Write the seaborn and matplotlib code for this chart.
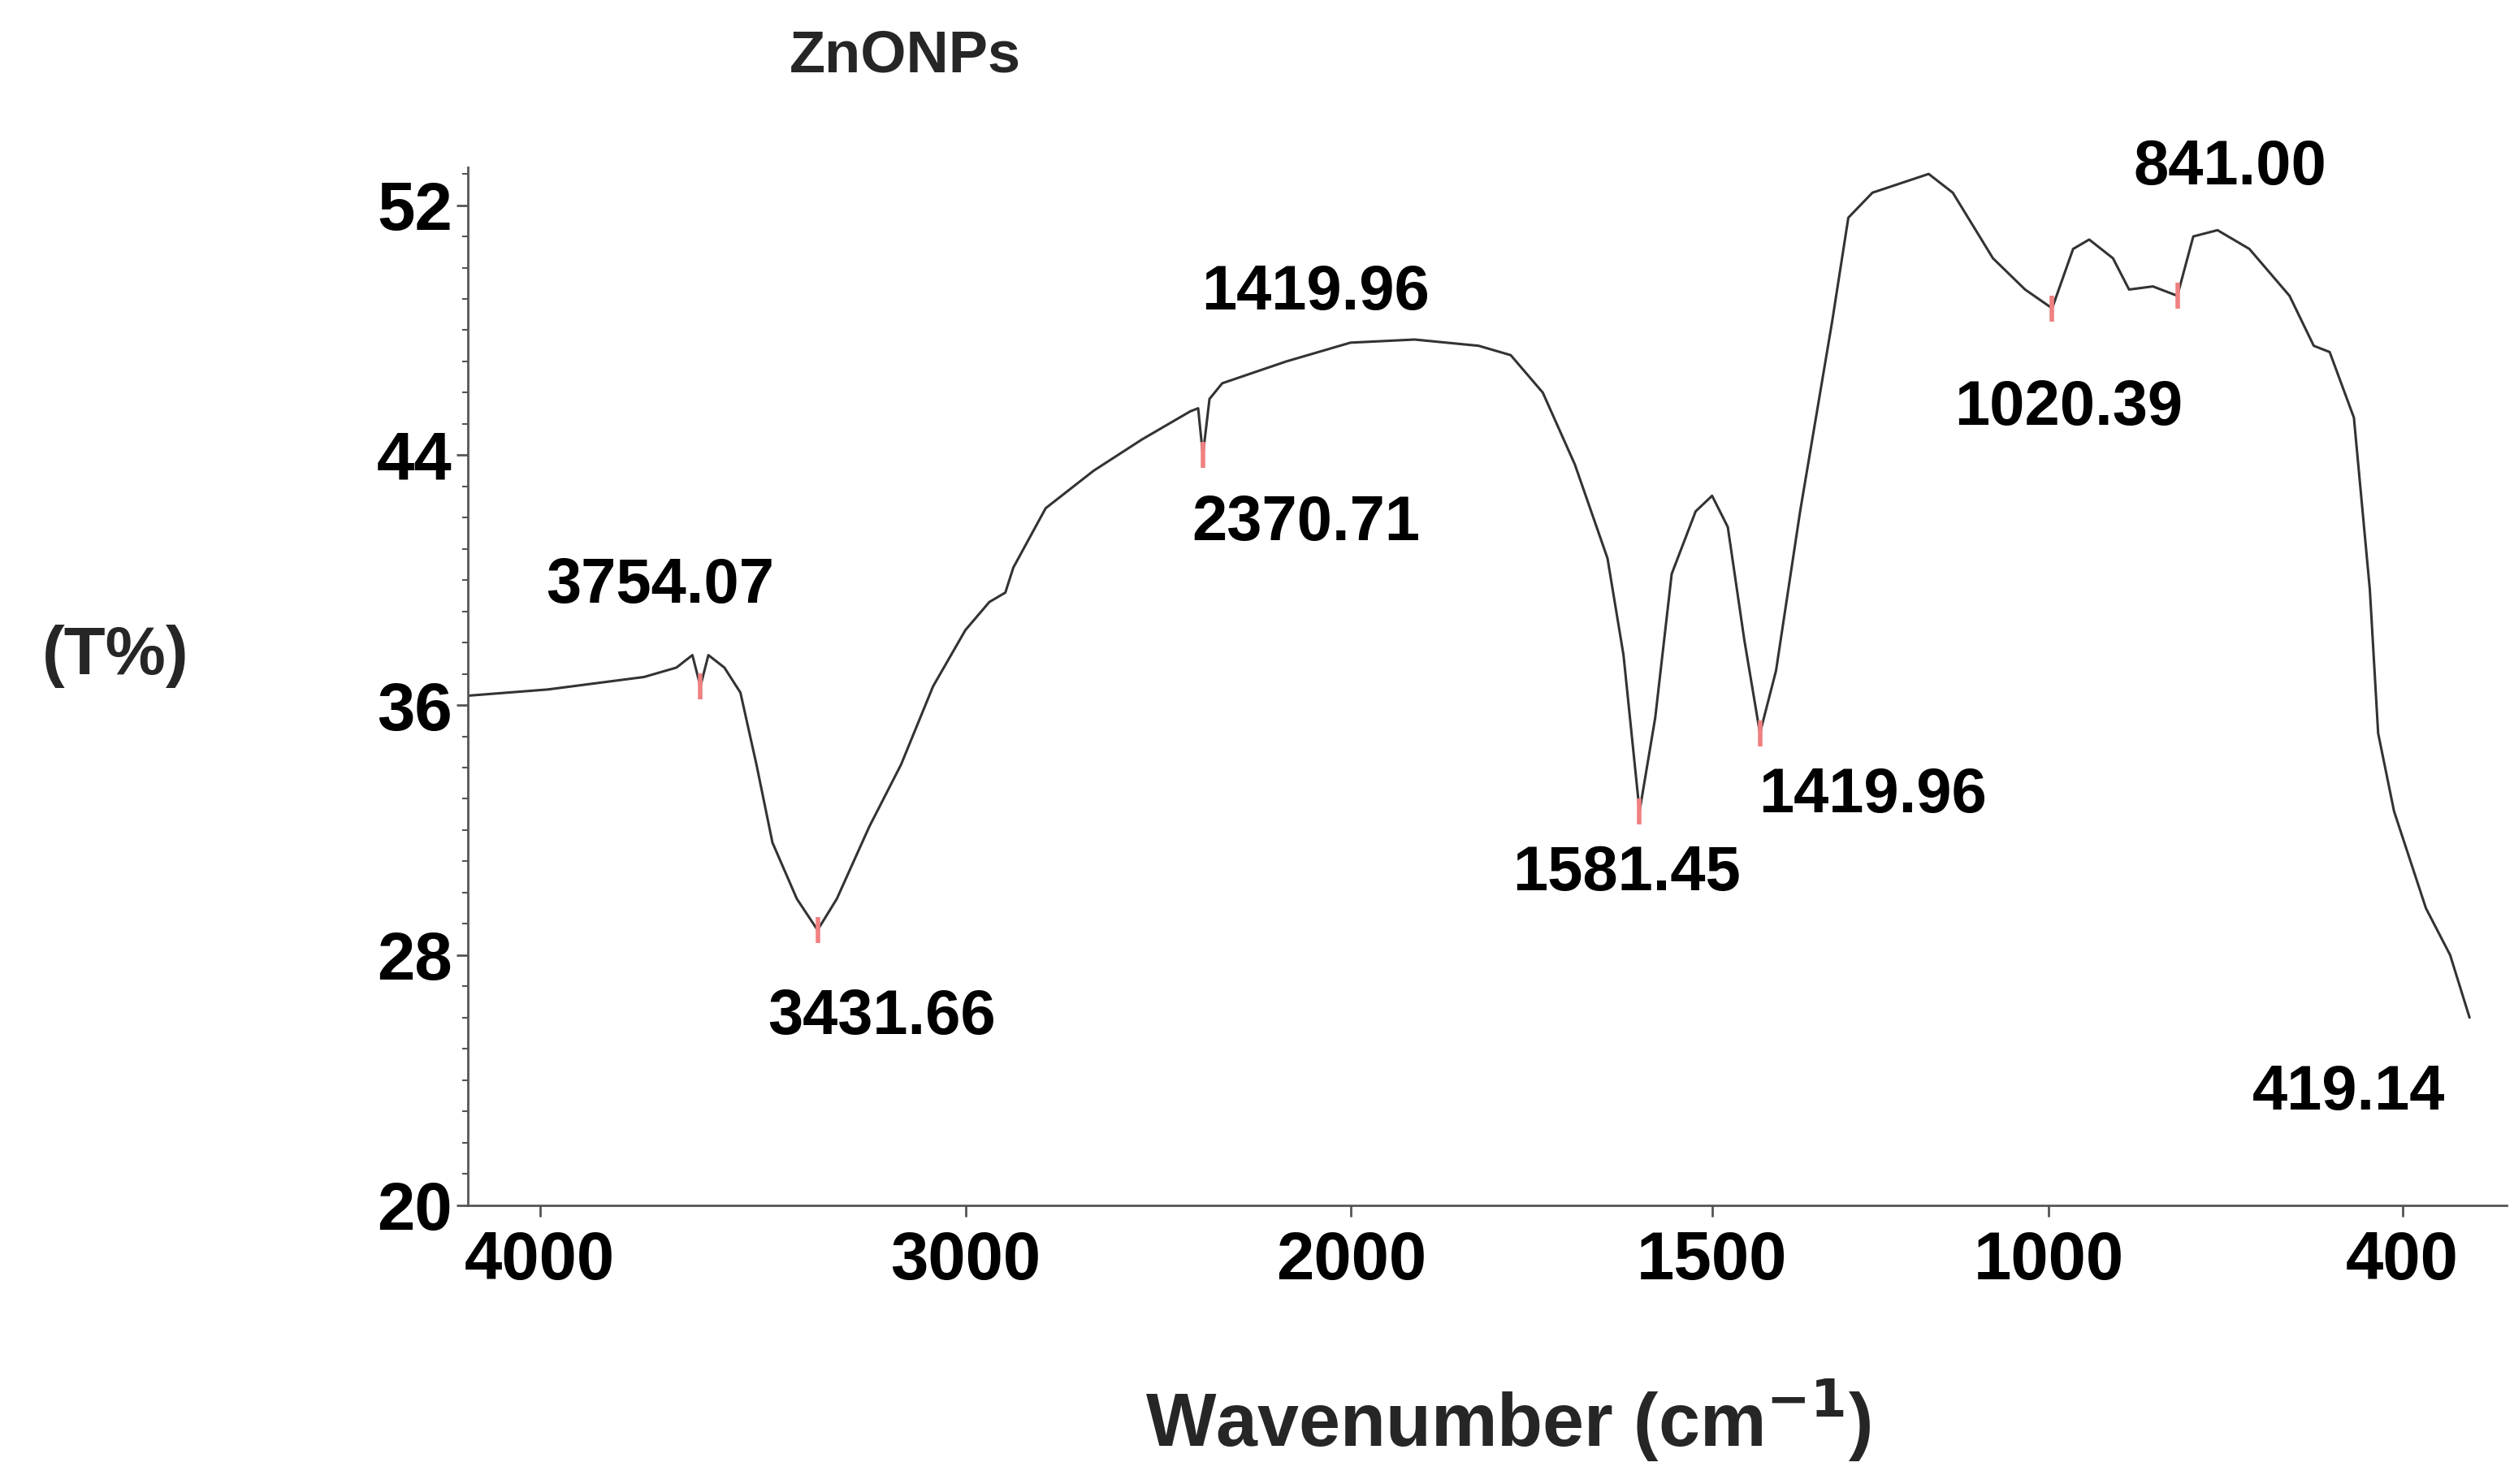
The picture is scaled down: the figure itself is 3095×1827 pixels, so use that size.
import numpy as np
import matplotlib
matplotlib.use("Agg")
import matplotlib.pyplot as plt
import seaborn as sns
from matplotlib.ticker import MultipleLocator, FixedLocator, NullLocator

wavenumber = [4395,4174,3909,3820,3776,3754,3732,3688,3644,3600,3556,3489,3432,3379,3290,3202,3114,3025,
              2959,2915,2893,2804,2672,2539,2406,2384,2371,2359,2336,2220,2104,1988,1872,1814,1756,1698,
              1639,1610,1581,1560,1538,1506,1484,1463,1441,1420,1398,1365,1321,1299,1266,1189,1156,1101,
              1057,1020,990,967,933,910,876,841,818,783,737,679,644,621,586,563,551,528,482,447,419]
transmittance = [36.3,36.5,36.9,37.2,37.6,36.6,37.6,37.2,36.4,34.1,31.6,29.8,28.8,29.8,32.1,34.1,36.6,38.4,
                 39.3,39.6,40.4,42.3,43.5,44.5,45.4,45.5,44.0,45.8,46.3,47.0,47.6,47.7,47.5,47.2,46.0,43.7,
                 40.7,37.6,32.6,35.6,40.2,42.2,42.7,41.7,38.1,35.1,37.1,42.2,48.3,51.6,52.4,53.0,52.4,50.3,
                 49.3,48.7,50.6,50.9,50.3,49.3,49.4,49.1,51.0,51.2,50.6,49.1,47.5,47.3,45.2,39.7,35.1,32.6,
                 29.5,28.0,26.0]
peak_labels = ["3754.07","3431.66","1419.96","2370.71","1581.45","1419.96","1020.39","841.00","419.14"]
label_x = [3865,3255,2168,2185,1604,1266,997,765,593]
label_y = [39.8,26.0,49.2,41.8,30.6,33.1,45.5,53.2,23.6]
peak_x = [3754,3432,2371,1581,1420,1020,841]
peak_y = [36.6,28.8,44.0,32.6,35.1,48.7,49.1]
xtick_pos = [4196,3024,2103,1484,1025,516]
xtick_labels = ["4000","3000","2000","1500","1000","400"]
yticks = [20,28,36,44,52]

# piecewise axis mapping (instrument-style nonuniform wavenumber axis)
anchor_w = np.array([370,419,841,1020,1420,1581,2371,3432,3754,4395], float)
anchor_p = -np.array([1560,1537,1355,1277,1095,1020,748,508,435,290], float)
def fwd(w):
    return np.interp(w, anchor_w, anchor_p)
def inv(p):
    return np.interp(p, anchor_p, anchor_w)

sns.set_theme(style="white")
plt.rcParams['font.family'] = ['Liberation Sans', 'DejaVu Sans']
fig = plt.figure(figsize=(30.95, 18.27), dpi=100)
ax = fig.add_axes([0.186, 0.188, 0.811, 0.699])
ax.set_xscale('function', functions=(fwd, inv))
sns.lineplot(x=wavenumber, y=transmittance, ax=ax, color='#333333', lw=2.2, sort=False, estimator=None)
ax.scatter(peak_x, peak_y, marker='|', s=500, color='#f08080', lw=4, zorder=3)
ax.set_xlim(4395, 370)
ax.set_ylim(20, 53.2)
ax.xaxis.set_major_locator(FixedLocator(xtick_pos))
ax.set_xticklabels(xtick_labels)
ax.xaxis.set_minor_locator(NullLocator())
ax.set_yticks(yticks)
ax.yaxis.set_minor_locator(MultipleLocator(1))
for s in ['top', 'right']:
    ax.spines[s].set_visible(False)
for s in ['left', 'bottom']:
    ax.spines[s].set_color('#555555'); ax.spines[s].set_linewidth(2)
ax.tick_params(axis='both', labelsize=60, width=2, length=10, color='#555555', labelcolor='black')
ax.tick_params(axis='y', which='minor', length=5, width=1.5, left=True, color='#555555')
ax.tick_params(axis='y', which='major', left=True, direction='out')
ax.tick_params(axis='x', bottom=True, direction='out', pad=12)
for lab in ax.get_xticklabels() + ax.get_yticklabels():
    lab.set_fontweight('bold')
for t, x, y in zip(peak_labels, label_x, label_y):
    ax.text(x, y, t, fontsize=56, fontweight='bold', ha='center', va='center', color='black')
fig.text(0.36, 0.962, "ZnONPs", fontsize=52, fontweight='bold', ha='center', va='center')
fig.text(0.046, 0.558, "(T%)", fontsize=60, fontweight='bold', ha='center', va='center')
fig.text(0.60, 0.043, "Wavenumber (cm$^{\\mathbf{-1}}$)", fontsize=66, fontweight='bold', ha='center', va='center')
fig.savefig("out.png", dpi=100, facecolor='white')
